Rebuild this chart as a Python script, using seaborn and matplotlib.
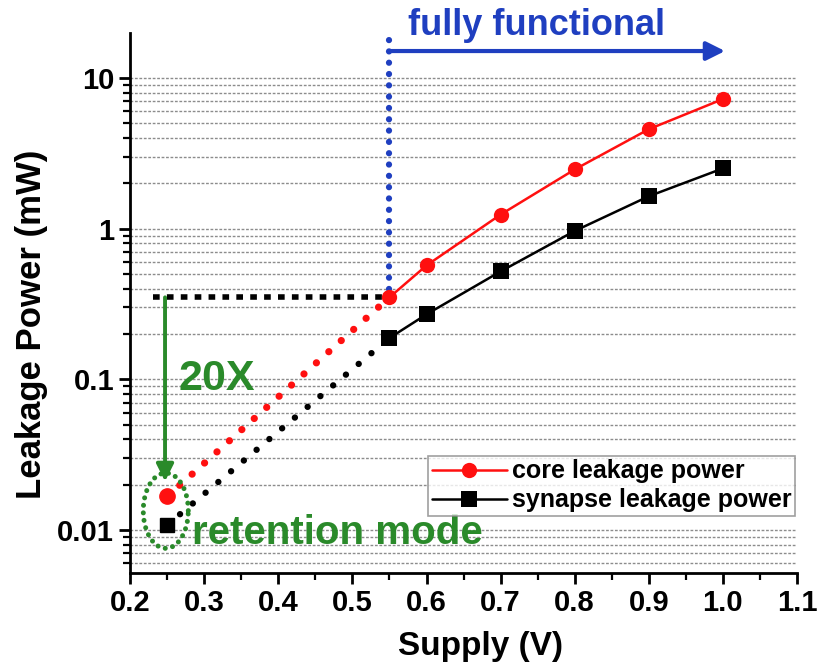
import numpy as np
import pandas as pd
import matplotlib
matplotlib.use('Agg')
import matplotlib.pyplot as plt
import matplotlib.ticker as mticker
import seaborn as sns

# measured points (normal operation)
supply_v = [0.55, 0.6, 0.7, 0.8, 0.9, 1.0]
core_mw = [0.35, 0.57, 1.24, 2.47, 4.57, 7.24]
synapse_mw = [0.188, 0.27, 0.52, 0.965, 1.64, 2.51]

# retention mode points
retention_v = 0.25
core_ret_mw = 0.0167
synapse_ret_mw = 0.0108

series_names = ['core leakage power', 'synapse leakage power']
x_ticks = [0.2, 0.3, 0.4, 0.5, 0.6, 0.7, 0.8, 0.9, 1.0, 1.1]
y_ticks = [0.01, 0.1, 1, 10]
y_tick_labels = ['0.01', '0.1', '1', '10']

RED = '#ff1010'
GREEN = '#2a8a2a'
BLUE = '#1f3fc0'

sns.set_theme(style='ticks')
plt.rcParams['font.family'] = ['Liberation Sans', 'DejaVu Sans']
plt.rcParams['font.weight'] = 'bold'
plt.rcParams['axes.labelweight'] = 'bold'
plt.rcParams['text.color'] = 'black'
plt.rcParams['axes.labelcolor'] = 'black'

df = pd.DataFrame({
    'Supply (V)': supply_v * 2,
    'power': core_mw + synapse_mw,
    'series': [series_names[0]] * len(supply_v) + [series_names[1]] * len(supply_v),
})

fig = plt.figure(figsize=(8.19, 6.66), dpi=100)
ax = fig.add_axes([0.159, 0.140, 0.814, 0.810])
ax.set_yscale('log')

# dotted extrapolation down to retention mode
ax.plot([retention_v, supply_v[0]], [core_ret_mw, core_mw[0]], color=RED, lw=5.2,
        linestyle=(0, (0.01, 2.3)), dash_capstyle='round', zorder=3)
ax.plot([retention_v, supply_v[0]], [synapse_ret_mw, synapse_mw[0]], color='black', lw=4.6,
        linestyle=(0, (0.01, 2.6)), dash_capstyle='round', zorder=3)
ax.plot([retention_v], [core_ret_mw], 'o', color=RED, ms=11, zorder=4)
ax.plot([retention_v], [synapse_ret_mw], 's', color='black', ms=9.5, zorder=4)

sns.lineplot(data=df, x='Supply (V)', y='power', hue='series', style='series',
             palette=[RED, 'black'], markers=['o', 's'], dashes=False,
             markersize=11, markeredgewidth=0, linewidth=1.8, ax=ax, zorder=5)

# axes formatting
ax.set_xlim(0.2, 1.1)
ax.set_ylim(0.0052, 19.8)
ax.set_xticks(x_ticks)
ax.set_xticklabels([f'{t:.1f}' for t in x_ticks])
ax.xaxis.set_minor_locator(mticker.MultipleLocator(0.05))
ax.set_yticks(y_ticks)
ax.set_yticklabels(y_tick_labels)
ax.yaxis.set_minor_locator(mticker.LogLocator(base=10, subs=np.arange(2, 10)))
ax.yaxis.set_minor_formatter(mticker.NullFormatter())
ax.tick_params(axis='both', which='major', labelsize=21, width=2, length=8, direction='out', colors='black')
ax.tick_params(axis='both', which='minor', width=1.6, length=5, direction='out', colors='black')
ax.set_xlabel('Supply (V)', fontsize=24, color='black')
ax.xaxis.set_label_coords(0.525, -0.108)
ax.set_ylabel('Leakage Power (mW)', fontsize=25, color='black')
ax.yaxis.set_label_coords(-0.123, 0.46)
for s in ['top', 'right']:
    ax.spines[s].set_visible(False)
for s in ['left', 'bottom']:
    ax.spines[s].set_linewidth(2)
    ax.spines[s].set_color('black')
ax.grid(which='both', axis='y', color='#8c8c8c', linestyle=(0, (2, 1.2)), lw=1.0)
ax.grid(which='both', axis='x', visible=False)
ax.set_axisbelow(True)

# legend
handles, labels = ax.get_legend_handles_labels()
leg = ax.legend(handles, labels, loc='lower right', bbox_to_anchor=(0.997, 0.105),
                fontsize=18, frameon=True, fancybox=False, handlelength=3.0,
                borderpad=0.15, labelspacing=0.2, handletextpad=0.2, borderaxespad=0)
leg.get_frame().set_edgecolor('#888888')
leg.get_frame().set_linewidth(1.2)
for t in leg.get_texts():
    t.set_fontweight('bold')
    t.set_color('black')

# annotations
ax.plot([supply_v[0], supply_v[0]], [0.40, 21.0], color=BLUE, lw=4.5,
        linestyle=(0, (0.01, 1.8)), dash_capstyle='round', clip_on=False, zorder=2)
ax.annotate('', xy=(1.003, 15.1), xytext=(supply_v[0], 15.1),
            arrowprops=dict(arrowstyle='-|>', color=BLUE, lw=3, mutation_scale=28,
                            shrinkA=0, shrinkB=0), annotation_clip=False)
ax.text(0.575, 22.2, 'fully functional', color=BLUE, fontsize=26, fontweight='bold',
        ha='left', va='center', clip_on=False)

ax.plot([0.231, supply_v[0]], [core_mw[0], core_mw[0]], color='black', lw=4,
        linestyle=(0, (1.2, 1.3)), zorder=3)
ax.annotate('', xy=(0.247, 0.021), xytext=(0.247, core_mw[0]),
            arrowprops=dict(arrowstyle='-|>', color=GREEN, lw=2.8, mutation_scale=26,
                            shrinkA=0, shrinkB=0))
ax.text(0.265, 0.1, '20X', color=GREEN, fontsize=31, fontweight='bold', ha='left', va='center')

theta = np.linspace(0, 2 * np.pi, 200)
c_log = np.log10(np.sqrt(core_ret_mw * synapse_ret_mw))
ax.plot(0.248 + 0.0304 * np.cos(theta), 10 ** (c_log + 0.25 * np.sin(theta)),
        color=GREEN, lw=3.6, linestyle=(0, (0.01, 1.5)), dash_capstyle='round', zorder=6)
ax.text(0.283, 0.00955, 'retention mode', color=GREEN, fontsize=29, fontweight='bold',
        ha='left', va='center')

fig.savefig('out.png', dpi=100)
